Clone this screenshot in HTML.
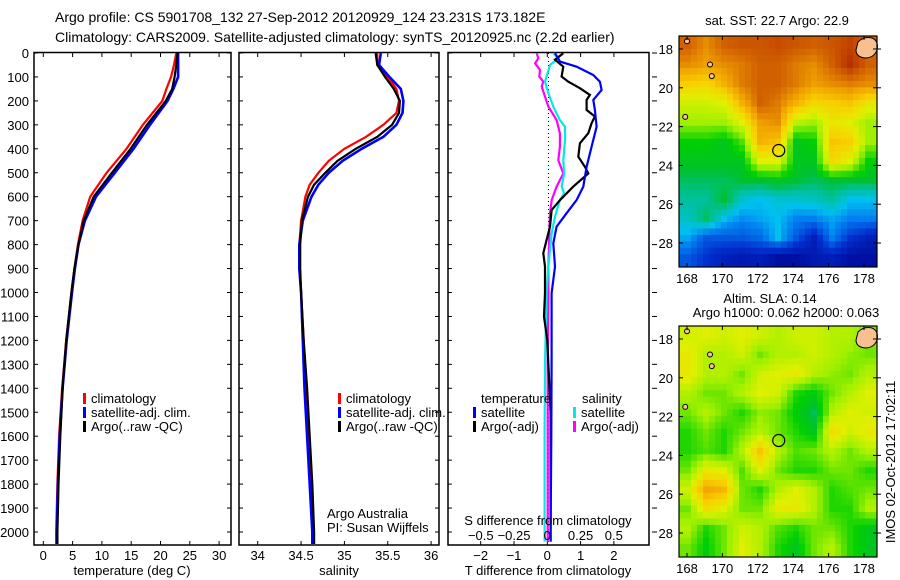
<!DOCTYPE html>
<html><head><meta charset="utf-8">
<style>
body{margin:0;background:#fff;}
svg{display:block;font-family:"Liberation Sans",sans-serif;}
text{font-size:13px;fill:#000;}
</style></head>
<body>
<svg id="chart" width="900" height="580" viewBox="0 0 900 580" xmlns="http://www.w3.org/2000/svg">
<text x="55" y="22" style="font-size:14px">Argo profile: CS 5901708_132 27-Sep-2012 20120929_124 23.231S 173.182E</text>
<text x="55" y="42" style="font-size:14px">Climatology: CARS2009. Satellite-adjusted climatology: synTS_20120925.nc (2.2d earlier)</text>
<g id="g"></g>
</svg>
<script>
// ---------- data ----------
const tClimDepth=[0,50,100,150,200,300,400,500,600,700,800,900,1000,1200,1400,1600,1800,2000,2050];
const tClim=[22.7,22.3,21.8,21.0,20.3,17.0,14.2,10.8,8.0,6.7,5.9,5.3,4.8,3.9,3.2,2.7,2.4,2.2,2.2];
const tSat=[23.0,23.0,23.0,22.2,21.2,18.2,15.4,12.2,9.0,7.1,6.0,5.4,4.9,4.0,3.3,2.8,2.5,2.3,2.3];
const tArgo=[22.9,22.7,22.4,22.0,20.9,17.7,14.9,11.7,8.6,6.9,6.0,5.3,4.8,3.9,3.3,2.9,2.6,2.4,2.4];
const sClimDepth=[0,50,100,150,200,250,300,350,400,450,500,550,600,700,800,900,1000,1200,1400,1600,1800,2000,2050];
const sClim=[35.38,35.38,35.5,35.6,35.63,35.6,35.45,35.25,35.0,34.82,34.7,34.6,34.55,34.5,34.48,34.48,34.5,34.53,34.56,34.59,34.62,34.64,34.65];
const sSat=[35.42,35.4,35.52,35.65,35.68,35.67,35.6,35.45,35.2,34.98,34.82,34.7,34.62,34.52,34.48,34.48,34.5,34.52,34.54,34.57,34.6,34.63,34.63];
const sArgo=[35.36,35.38,35.47,35.57,35.64,35.63,35.55,35.38,35.13,34.92,34.78,34.65,34.58,34.51,34.49,34.49,34.5,34.53,34.57,34.6,34.63,34.65,34.65];
const dTSatDepth=[1,36,57,92,120,154,196,238,308,391,475,558,614,669,725,795,892,1003,1300,1600,2000,2040];
const dTSat=[0.23,0.38,0.88,1.38,1.58,1.63,1.38,1.43,1.48,1.33,1.18,1.08,0.88,0.58,0.28,0.18,0.23,0.13,0.13,0.12,0.1,0.1];
const dTArgoDepth=[1,28,57,98,120,147,175,196,238,265,293,335,377,433,475,503,558,614,656,725,781,836,892,1003,1100,1200,1500,2000,2040];
const dTArgo=[0.48,0.23,0.48,0.43,0.63,0.98,1.28,1.18,1.18,1.43,1.33,1.23,0.98,0.93,1.13,1.23,0.78,0.38,0.13,0.08,-0.02,-0.12,-0.07,-0.07,-0.1,0.0,0.1,0.1,0.1];
const dSSatDepth=[1,22,50,98,120,168,224,280,308,363,447,503,558,586,614,683,753,892,1003,1300,1600,2000,2040];
const dSSat=[0.045,0.083,0.02,-0.005,-0.017,0.008,0.045,0.095,0.133,0.133,0.12,0.126,0.108,0.126,0.095,0.058,0.033,0.008,-0.005,-0.017,-0.02,-0.02,-0.02];
const dSArgoDepth=[1,22,43,71,98,120,140,182,224,280,335,391,447,503,558,614,669,753,892,1003,1300,1600,2000,2040];
const dSArgo=[-0.08,-0.068,-0.092,-0.055,-0.06,-0.03,-0.042,-0.017,0.008,0.07,0.095,0.095,0.083,0.12,0.07,0.033,0.02,0.015,0.008,0.008,0.003,0.003,0.003,0.003];
const depthTicks=[0,100,200,300,400,500,600,700,800,900,1000,1100,1200,1300,1400,1500,1600,1700,1800,1900,2000];
const tTicks=[0,5,10,15,20,25,30];
const sTicks=[34,34.5,35,35.5,36];
const dTTicks=[-2,-1,0,1,2];
const dSTicks=[-0.5,-0.25,0,0.25,0.5];
const dSTickLabels=["\u22120.5","\u22120.25","0","0.25","0.5"];
const latTicks=[18,20,22,24,26,28];
const lonTicks=[168,170,172,174,176,178];
const sstGrid=[
[0.85,0.8,0.85,0.86,0.86,0.87,0.86,0.85,0.86,0.88,0.85],
[0.8,0.78,0.8,0.82,0.85,0.85,0.82,0.8,0.85,0.9,0.85],
[0.7,0.68,0.75,0.82,0.85,0.85,0.82,0.78,0.8,0.82,0.8],
[0.6,0.6,0.62,0.75,0.85,0.82,0.75,0.68,0.7,0.72,0.65],
[0.55,0.55,0.55,0.62,0.78,0.8,0.58,0.55,0.65,0.62,0.55],
[0.45,0.45,0.42,0.5,0.75,0.72,0.42,0.45,0.72,0.7,0.55],
[0.42,0.42,0.42,0.42,0.62,0.62,0.42,0.42,0.68,0.62,0.45],
[0.38,0.38,0.38,0.4,0.4,0.42,0.4,0.38,0.4,0.4,0.4],
[0.35,0.35,0.4,0.32,0.3,0.32,0.32,0.33,0.35,0.3,0.3],
[0.33,0.38,0.3,0.26,0.28,0.3,0.25,0.25,0.28,0.25,0.25],
[0.28,0.2,0.2,0.2,0.22,0.3,0.2,0.1,0.25,0.15,0.1],
[0.2,0.15,0.1,0.08,0.1,0.05,0.05,0.08,0.1,0.05,0.05]];
const slaGrid=[
[0.6,0.62,0.6,0.62,0.6,0.57,0.6,0.6,0.57,0.57,0.52],
[0.64,0.57,0.57,0.6,0.52,0.57,0.57,0.6,0.57,0.54,0.52],
[0.64,0.57,0.57,0.52,0.6,0.62,0.64,0.57,0.54,0.52,0.57],
[0.57,0.52,0.52,0.57,0.62,0.6,0.47,0.44,0.52,0.57,0.62],
[0.52,0.57,0.52,0.47,0.54,0.52,0.44,0.38,0.57,0.62,0.6],
[0.47,0.52,0.47,0.52,0.57,0.52,0.47,0.42,0.67,0.6,0.64],
[0.47,0.5,0.47,0.57,0.72,0.57,0.5,0.52,0.57,0.52,0.57],
[0.52,0.64,0.62,0.5,0.62,0.52,0.47,0.47,0.52,0.52,0.47],
[0.6,0.77,0.74,0.52,0.47,0.57,0.62,0.57,0.47,0.5,0.52],
[0.52,0.67,0.62,0.52,0.52,0.64,0.64,0.57,0.47,0.47,0.57],
[0.57,0.47,0.52,0.6,0.57,0.5,0.47,0.52,0.52,0.47,0.42],
[0.52,0.44,0.52,0.62,0.57,0.47,0.42,0.52,0.57,0.47,0.42]];
const argoLon=173.182, argoLat=23.231;

// ---------- helpers ----------
const NS="http://www.w3.org/2000/svg";
const G=document.getElementById('g');
function el(tag,attrs,parent){const e=document.createElementNS(NS,tag);for(const k in attrs)e.setAttribute(k,attrs[k]);(parent||G).appendChild(e);return e;}
function txt(x,y,s,anchor,parent,size){const t=el('text',{x:x,y:y,'text-anchor':anchor||'start'},parent);if(size)t.style.fontSize=size+'px';t.textContent=s;return t;}
const TOP=53,PXD=0.2395,BOT=545;
const yD=d=>TOP+d*PXD;

function panel(name,x0,x1,xs,xt,xl,showDepthLabels,outRight){
  const g=el('g',{});
  
  
  const r=el('rect',{x:x0,y:TOP-0.5,width:x1-x0,height:BOT-TOP+0.5,fill:'none',stroke:'#000','stroke-width':1.5},g);
  
  
  depthTicks.forEach(d=>{
    const y=yD(d);
    el('line',{x1:x0,x2:x0+4,y1:y,y2:y,stroke:'#000'},g);
    if(outRight) el('line',{x1:x1+3,x2:x1+8,y1:y,y2:y,stroke:'#000'},g);
    else el('line',{x1:x1-4,x2:x1,y1:y,y2:y,stroke:'#000'},g);
    if(showDepthLabels){const t=txt(x0-5,y+5,String(d),'end',g);}
  });
  xt.forEach((v,i)=>{
    const x=xs(v);
    el('line',{x1:x,x2:x,y1:BOT,y2:BOT-4,stroke:'#000'},g);
    el('line',{x1:x,x2:x,y1:TOP,y2:TOP+4,stroke:'#000'},g);
    const t=txt(x,BOT+15,xl?xl[i]:String(v),'middle',g);
    
    
  });
  return g;
}
function line(xs,depths,vals,color,name,w){
  const pts=depths.map((d,i)=>xs(vals[i]).toFixed(1)+','+yD(d).toFixed(1)).join(' ');
  const p=el('polyline',{points:pts,fill:'none',stroke:color,'stroke-width':w||2.2,'stroke-linejoin':'miter'});
  
  
}
function legend(x,y,color,label,name){
  const r=el('rect',{x:x,y:y-5,width:3,height:11,fill:color});
  
  
  const t=txt(x+8,y+5,label);
  
  
}

// ---------- panel 1 ----------
const xT=v=>43.3+v*5.86;
panel('temperature-panel',34,231,xT,tTicks,null,true,false);
line(xT,tClimDepth,tClim,'#ff0000','temp-climatology-line');
line(xT,tClimDepth,tSat,'#0000ff','temp-satellite-line',2.6);
line(xT,tClimDepth,tArgo,'#000000','temp-argo-line');
let t=txt(132,575,'temperature (deg C)','middle');
legend(83,398,'#ff0000','climatology','legend-climatology');
legend(83,412,'#0000ff','satellite-adj. clim.','legend-satellite');
legend(83,426,'#000000','Argo(..raw -QC)','legend-argo');

// ---------- panel 2 ----------
const xS=v=>257.7+(v-34)*86.7;
panel('salinity-panel',239,439,xS,sTicks,null,false,false);
line(xS,sClimDepth,sClim,'#ff0000','sal-climatology-line');
line(xS,sClimDepth,sSat,'#0000ff','sal-satellite-line',2.6);
line(xS,sClimDepth,sArgo,'#000000','sal-argo-line');
t=txt(339,575,'salinity','middle');
legend(338,398,'#ff0000','climatology','legend2-climatology');
legend(338,412,'#0000ff','satellite-adj. clim.','legend2-satellite');
legend(338,426,'#000000','Argo(..raw -QC)','legend2-argo');
t=txt(327,518,'Argo Australia');
t=txt(327,532,'PI: Susan Wijffels');

// ---------- panel 3 ----------
const xDT=v=>547.3+v*33.3;
const xDS=v=>547.3+v*133;
panel('difference-panel',448,649,xDT,dTTicks,dTTicks.map(v=>v<0?'\u2212'+(-v):String(v)),false,true);
const zl=el('line',{x1:548.5,x2:548.5,y1:TOP,y2:BOT,stroke:'#000','stroke-dasharray':'1,3'});

line(xDS,dSArgoDepth,dSArgo,'#ff00ff','sal-diff-argo-line');
line(xDS,dSSatDepth,dSSat,'#00e8e8','sal-diff-satellite-line');
line(xDT,dTArgoDepth,dTArgo,'#000000','temp-diff-argo-line');
line(xDT,dTSatDepth,dTSat,'#0000ff','temp-diff-satellite-line');
dSTicks.forEach((v,i)=>{const tt=txt(xDS(v),540,dSTickLabels[i],'middle');});
t=txt(548,525,'S difference from climatology','middle');
t=txt(548,575,'T difference from climatology','middle');
t=txt(481,403,'temperature');
t=txt(582,403,'salinity');
legend(473,412,'#0000ff','satellite','legend3-temp-satellite');
legend(473,426,'#000000','Argo(-adj)','legend3-temp-argo');
legend(573,412,'#00e8e8','satellite','legend3-sal-satellite');
legend(573,426,'#ff00ff','Argo(-adj)','legend3-sal-argo');

// ---------- maps ----------
const cStops=[0,0.15,0.25,0.3,0.35,0.4,0.45,0.55,0.62,0.7,0.78,0.85,0.95];
const cCols=[[0,0,139],[0,48,208],[0,128,240],[0,192,240],[0,192,160],[0,192,48],[0,208,0],[160,240,0],[224,240,0],[248,208,0],[240,160,0],[208,96,0],[160,0,0]];
function cmap(v){
  for(let i=1;i<cStops.length;i++){if(v<=cStops[i]){const f=(v-cStops[i-1])/(cStops[i]-cStops[i-1]);const a=cCols[i-1],b=cCols[i];return 'rgb('+a.map((c,k)=>Math.round(c+(b[k]-c)*f)).join(',')+')';}}
  const c=cCols[cCols.length-1];return 'rgb('+c.join(',')+')';
}
function sample(grid,r,c){
  const R=grid.length-1,C=grid[0].length-1;
  r=Math.max(0,Math.min(R,r));c=Math.max(0,Math.min(C,c));
  const r0=Math.floor(r),c0=Math.floor(c),r1=Math.min(R,r0+1),c1=Math.min(C,c0+1),fr=r-r0,fc=c-c0;
  return grid[r0][c0]*(1-fr)*(1-fc)+grid[r0][c1]*(1-fr)*fc+grid[r1][c0]*fr*(1-fc)+grid[r1][c1]*fr*fc;
}
function map(name,top,grid){
  const X0=679,X1=877,Y0=top,Y1=top+231;
  const g=el('g',{});
  
  
  const rows=grid.length,cols=grid[0].length,SUB=3;
  const cw=(X1-X0)/(cols*SUB),ch=(Y1-Y0)/(rows*SUB);
  for(let r=0;r<rows*SUB;r++)for(let c=0;c<cols*SUB;c++){
    const v=sample(grid,(r+0.5)/SUB-0.5,(c+0.5)/SUB-0.5);
    const cell=el('rect',{x:(X0+c*cw).toFixed(2),y:(Y0+r*ch).toFixed(2),width:(cw+0.5).toFixed(2),height:(ch+0.5).toFixed(2),fill:cmap(v)},g);
    
    
  }
  const lonX=l=>687+(l-168)*17.7, latY=l=>top+13+(l-18)*19.4;
  const land=el('path',{d:'M'+(858)+','+(top+6)+' q6,-6 14,-4 q7,3 5,12 q-3,8 -12,8 q-9,-1 -9,-8 z',fill:'#f8c090',stroke:'#000','stroke-width':1},g);
  
  [[168,17.6],[169.3,18.8],[169.4,19.4],[167.9,21.5]].forEach(p=>{
    const i=el('ellipse',{cx:lonX(p[0]),cy:latY(p[1]),rx:2.5,ry:2.5,fill:'#f8c090',stroke:'#000','stroke-width':1},g);
    
  });
  const circ=el('circle',{cx:lonX(argoLon),cy:latY(argoLat),r:6,fill:'none',stroke:'#000','stroke-width':1.2},g);
  
  el('rect',{x:X0,y:Y0,width:X1-X0,height:Y1-Y0,fill:'none',stroke:'#000','stroke-width':1.2},g);
  latTicks.forEach(l=>{const y=latY(l);el('line',{x1:X0,x2:X0+4,y1:y,y2:y,stroke:'#000'},g);el('line',{x1:X1-4,x2:X1+4,y1:y,y2:y,stroke:'#000'},g);
    const tt=txt(X0-6,y+5,String(l),'end',g);});
  lonTicks.forEach(l=>{const x=lonX(l);el('line',{x1:x,x2:x,y1:Y1,y2:Y1-4,stroke:'#000'},g);el('line',{x1:x,x2:x,y1:Y0,y2:Y0+4,stroke:'#000'},g);
    const tt=txt(x,Y1+16,String(l),'middle',g);});
}
map('sst-map',36,sstGrid);
map('sla-map',326,slaGrid);
t=txt(777,25,'sat. SST: 22.7 Argo: 22.9','middle');
t=txt(770,303,'Altim. SLA: 0.14','middle');
t=txt(786,317,'Argo h1000: 0.062 h2000: 0.063','middle');
t=txt(0,0,'IMOS 02-Oct-2012 17:02:11','middle');
t.setAttribute('transform','translate(895,462) rotate(-90)');


</script>
</body></html>
